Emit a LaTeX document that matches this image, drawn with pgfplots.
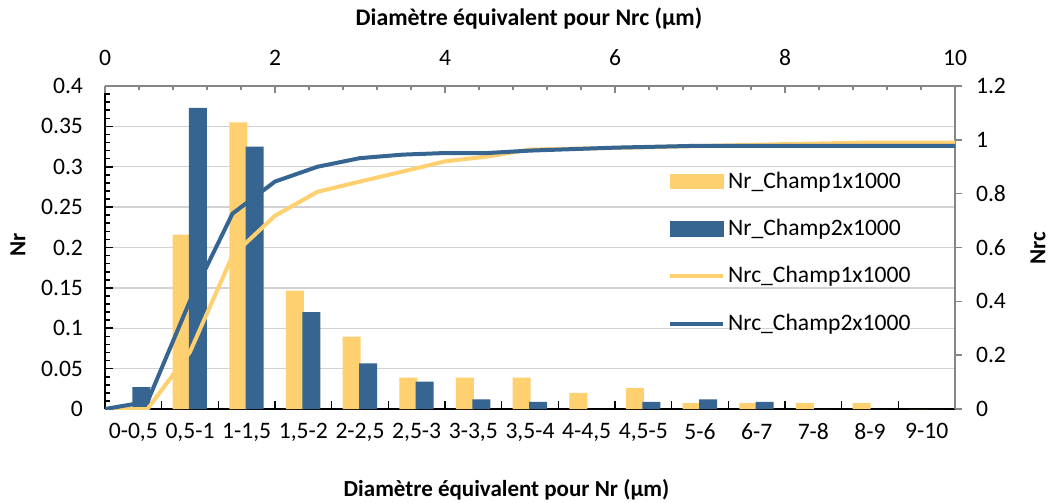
\documentclass[border=0pt]{standalone}
\usepackage{fontspec}
\setmainfont{Carlito}
\usepackage{pgfplots}
\pgfplotsset{compat=1.18}
\definecolor{yc}{RGB}{255,208,112}
\definecolor{bc}{RGB}{55,101,146}
\definecolor{gc}{RGB}{210,210,210}
\definecolor{ac}{RGB}{134,134,134}
\newcommand{\fs}{\fontsize{11.8}{14}\selectfont}
\newcommand{\fb}{\fontsize{11.5}{14}\selectfont\bfseries}
\newcommand{\ft}{\fontsize{11.9}{14}\selectfont\bfseries}
\begin{document}
\begin{tikzpicture}
\path[use as bounding box] (-52.5pt,-47pt) rectangle (472pt,204.5pt);
\begin{axis}[
  scale only axis, width=425pt, height=161.5pt, at={(0,0)}, anchor=south west,
  xmin=-0.5, xmax=14.5, ymin=0, ymax=0.4,
  axis x line*=bottom, axis y line*=left,
  axis line style={black, line width=1.2pt},
  tick align=inside,
  major tick length=4pt, minor tick length=2.5pt,
  tick style={black, line width=0.8pt},
  xtick={-0.5,0.5,...,14.5}, xticklabels={},
  extra x ticks={0,1,2,3,4,5,6,7,8,9,10,11,12,13,14},
  extra x tick labels={{0-0,5},{0,5-1},{1-1,5},{1,5-2},{2-2,5},{2,5-3},{3-3,5},{3,5-4},{4-4,5},{4,5-5},{5-6},{6-7},{7-8},{8-9},{9-10}},
  extra x tick style={tick style={draw=none}, grid=none},
  xticklabel style={font=\fs, yshift=-3.8pt},
  ytick={0,0.05,0.1,0.15,0.2,0.25,0.3,0.35,0.4},
  yticklabels={0,0.05,0.1,0.15,0.2,0.25,0.3,0.35,0.4},
  minor y tick num=4,
  yticklabel style={font=\fs, xshift=-7.5pt},
  ymajorgrids, grid style={gc, line width=0.7pt},
  xlabel={Diamètre équivalent pour Nr (µm)},
  xlabel style={at={(axis description cs:0.4724,-0.2508)}, anchor=center, font=\fb},
  ylabel={Nr},
  ylabel style={at={(axis description cs:-0.1024,0.508)}, anchor=center, font=\fb},
]
\addplot[ybar, bar width=9pt, bar shift=-4.2pt, fill=yc, draw=none] coordinates {
(0,0) (1,0.216) (2,0.355) (3,0.1465) (4,0.0896) (5,0.039) (6,0.039) (7,0.039)
(8,0.020) (9,0.026) (10,0.0074) (11,0.0074) (12,0.0074) (13,0.0074) (14,0)};
\addplot[ybar, bar width=9pt, bar shift=4.0pt, fill=bc, draw=none] coordinates {
(0,0.027) (1,0.373) (2,0.325) (3,0.120) (4,0.0566) (5,0.034) (6,0.012) (7,0.0087)
(8,0) (9,0.0087) (10,0.012) (11,0.0087) (12,0) (13,0) (14,0)};
\end{axis}
\begin{axis}[
  scale only axis, width=425pt, height=161.5pt, at={(0,0)}, anchor=south west,
  xmin=0, xmax=10, ymin=0, ymax=1.2,
  axis x line*=top, axis y line*=right,
  axis line style={ac, line width=0.9pt},
  tick align=inside,
  major tick length=3.5pt, minor tick length=2pt,
  tick style={ac, line width=0.7pt},
  xtick={0,2,4,6,8,10}, xticklabels={0,2,4,6,8,10},
  minor x tick num=4,
  xticklabel style={font=\fs, yshift=6.8pt},
  ytick={0,0.2,0.4,0.6,0.8,1,1.2},
  yticklabels={0,0.2,0.4,0.6,0.8,1,1.2},
  y tick style={xshift=3.5pt},
  yticklabel style={font=\fs, xshift=7pt},
  xlabel={Diamètre équivalent pour Nrc (µm)},
  xlabel style={at={(axis description cs:0.4988,1.2074)}, anchor=center, font=\ft},
  ylabel={Nrc},
  ylabel style={at={(axis description cs:1.0976,0.498)}, anchor=center, rotate=0, font=\fb},
  legend cell align=left,
  legend image code/.code={\draw[#1] (0pt,0pt) -- (26.5pt,0pt);},
  legend style={draw=none, fill=none, font=\fs, at={(axis description cs:0.662,0.745)}, anchor=north west,
    row sep=11pt, inner sep=0pt, nodes={inner sep=1.5pt}},
]
\addlegendimage{legend image code/.code={\fill[yc] (0pt,-3.7pt) rectangle (26.5pt,3.7pt);}}
\addlegendentry{Nr\_Champ1x1000}
\addlegendimage{legend image code/.code={\fill[bc] (0pt,-3.7pt) rectangle (26.5pt,3.7pt);}}
\addlegendentry{Nr\_Champ2x1000}
\addplot[yc, line width=2pt] coordinates {
(0,0) (0.5,0) (1,0.212) (1.5,0.570) (2,0.718) (2.5,0.807) (3,0.845) (3.5,0.882)
(4,0.920) (4.5,0.938) (5,0.964) (6,0.970) (7,0.977) (8,0.984) (9,0.990) (10,0.990)};
\addlegendentry{Nrc\_Champ1x1000}
\addplot[bc, line width=2pt] coordinates {
(0,0) (0.5,0.027) (1,0.402) (1.5,0.726) (2,0.845) (2.5,0.900) (3,0.932) (3.5,0.945)
(4,0.951) (4.5,0.951) (5,0.960) (6,0.971) (7,0.978) (8,0.978) (9,0.978) (10,0.978)};
\addlegendentry{Nrc\_Champ2x1000}
\end{axis}
\end{tikzpicture}
\end{document}
